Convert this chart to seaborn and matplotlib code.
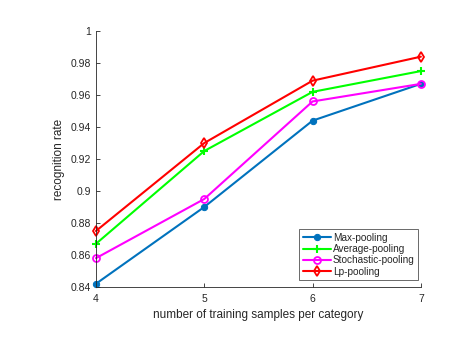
import pandas as pd
import seaborn as sns
import matplotlib
matplotlib.use("Agg")
import matplotlib.pyplot as plt

## data
samples = [4, 5, 6, 7]
max_pool = [0.842, 0.890, 0.944, 0.967]
avg_pool = [0.867, 0.925, 0.962, 0.975]
sto_pool = [0.858, 0.895, 0.956, 0.967]
lp_pool = [0.875, 0.930, 0.969, 0.984]
methods = ["Max-pooling", "Average-pooling", "Stochastic-pooling", "Lp-pooling"]

rows = []
for name, vals in zip(methods, [max_pool, avg_pool, sto_pool, lp_pool]):
    for s, v in zip(samples, vals):
        rows.append({"samples": s, "rate": v, "method": name})
df = pd.DataFrame(rows)

sns.set_style("white")
plt.rcParams["font.family"] = ["Liberation Sans", "DejaVu Sans"]

colors = ["#0072BD", "#00FF00", "#FF00FF", "#FF0000"]

fig = plt.figure(figsize=(4.75, 3.38), dpi=100)
ax = fig.add_axes([0.202, 0.151, 0.684, 0.757])

for name, c in zip(methods, colors):
    sub = df[df["method"] == name]
    if name == "Max-pooling":
        kw = dict(marker="o", markersize=4.5, markerfacecolor=c, markeredgecolor=c)
    elif name == "Average-pooling":
        kw = dict(marker="+", markersize=6, markeredgewidth=1.5, markeredgecolor=c)
    elif name == "Stochastic-pooling":
        kw = dict(marker="o", markersize=5, markerfacecolor="none", markeredgecolor=c, markeredgewidth=1.3)
    else:
        kw = dict(marker="d", markersize=5.5, markerfacecolor="none", markeredgecolor=c, markeredgewidth=1.3)
    sns.lineplot(data=sub, x="samples", y="rate", color=c, linewidth=1.5,
                 label=name, ax=ax, clip_on=False, **kw)

ax.set_xlim(4, 7)
ax.set_ylim(0.84, 1.0)
ax.set_xticks(samples)
ax.set_yticks([0.84, 0.86, 0.88, 0.9, 0.92, 0.94, 0.96, 0.98, 1])
ax.set_yticklabels(["0.84", "0.86", "0.88", "0.9", "0.92", "0.94", "0.96", "0.98", "1"])
ax.set_xlabel("number of training samples per category", fontsize=8.5, color="#262626")
ax.set_ylabel("recognition rate", fontsize=8.5, color="#262626")
ax.tick_params(direction="in", length=3, width=0.6, colors="#262626", labelsize=7.5,
               left=True, bottom=True)
ax.tick_params(axis="x", pad=5)
sns.despine(ax=ax)
for sp in ["left", "bottom"]:
    ax.spines[sp].set_color("#262626")
    ax.spines[sp].set_linewidth(0.6)

leg = ax.legend(loc="lower right", bbox_to_anchor=(0.991, 0.027), fontsize=7.2,
                frameon=True, fancybox=False, edgecolor="#262626", borderaxespad=0,
                handlelength=2.8, borderpad=0.35, labelspacing=0.12, handletextpad=0.2)
leg.get_frame().set_linewidth(0.6)

plt.savefig("out.png", dpi=100)
